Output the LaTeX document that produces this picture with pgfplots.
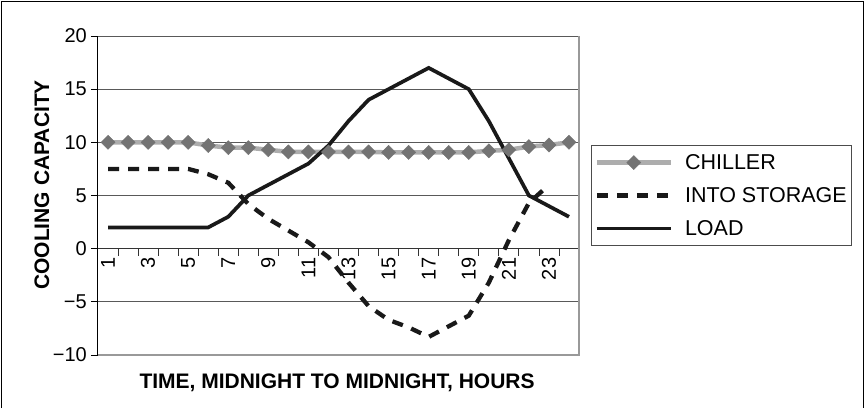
\documentclass[border=0pt]{standalone}
\usepackage{fontspec}
\setmainfont{Liberation Sans}
\usepackage{pgfplots}
\pgfplotsset{compat=1.18}
\begin{document}
\begin{tikzpicture}[x=1pt,y=1pt]
\useasboundingbox (0,0) rectangle (865,408);
\draw[line width=1.3pt,black] (1.5,0) -- (1.5,406.5) -- (863.5,406.5) -- (863.5,0);
\begin{axis}[
  at={(98pt,53pt)}, anchor=south west,
  scale only axis, width=481pt, height=319pt,
  xmin=0.5, xmax=24.5, ymin=-10, ymax=20,
  axis x line=middle, axis y line=left,
  axis line style={-},
  x axis line style={draw=black!80, line width=0.9pt},
  y axis line style={draw=black, line width=1pt},
  xtick={0.5,1.5,...,24.5}, xticklabels={},
  extra x ticks={1,3,5,7,9,11,13,15,17,19,21,23},
  extra x tick labels={1,3,5,7,9,11,13,15,17,19,21,23},
  extra x tick style={major tick length=0pt, tick style={draw=none},
     xticklabel style={yshift=-9pt, rotate=90, anchor=east, inner sep=0pt}},
  x tick style={draw=black!80, line width=0.8pt},
  tick align=outside,
  major tick length=7pt,
  ytick={-10,-5,0,5,10,15,20},
  yticklabels={−10,−5,0,5,10,15,20},
  y tick style={draw=black, line width=0.8pt},
  yticklabel style={inner sep=0pt, xshift=-4pt},
  tick label style={font=\fontsize{20}{24}\selectfont},
  ymajorgrids,
  grid style={draw=black!65, line width=0.8pt},
  xlabel={\textbf{TIME, MIDNIGHT TO MIDNIGHT, HOURS}},
  ylabel={\textbf{COOLING CAPACITY}},
  every axis x label/.style={at={(axis description cs:0.497,-0.0878)}, anchor=center, font=\fontsize{21}{25}\selectfont},
  every axis y label/.style={at={(axis description cs:-0.1164,0.533)}, rotate=90, anchor=center, font=\fontsize{21}{25}\selectfont},
  legend style={at={(axis description cs:1.025,0.658)}, anchor=north west,
     draw=black!70, line width=1pt, font=\fontsize{21.5}{25}\selectfont,
     inner xsep=3pt, inner ysep=7pt, row sep=13pt, column sep=0pt,
     /tikz/every odd column/.style={column sep=0pt},
     /tikz/every even column/.style={column sep=0pt},
     nodes={inner sep=2pt, text height=15pt, text depth=1pt}},
  legend cell align=left,
  legend image code/.code={\draw[#1, mark repeat=2, mark phase=2] plot coordinates {(0pt,0pt) (37pt,0pt) (74pt,0pt)}; \path (84pt,0pt);},
  clip=false,
]
\addplot[draw=black!32, line width=4.5pt, mark=square*, mark size=5pt,
  mark options={draw=black!55, fill=black!55, line width=0.4pt, solid, rotate=45}]
  coordinates {(1,10)(2,10)(3,10)(4,10)(5,10)(6,9.7)(7,9.5)(8,9.5)(9,9.3)(10,9.1)(11,9.1)(12,9.1)(13,9.1)(14,9.1)(15,9.05)(16,9.05)(17,9.05)(18,9.05)(19,9.05)(20,9.2)(21,9.3)(22,9.6)(23,9.75)(24,10)};
\addlegendentry{CHILLER}
\addplot[draw=black!90, line width=4.3pt, dash pattern=on 11pt off 9pt]
  coordinates {(1,7.5)(2,7.5)(3,7.5)(4,7.5)(5,7.5)(6,7.0)(7,6.2)(8,4.2)(9,2.8)(10,1.7)(11,0.6)(12,-0.8)(13,-3.2)(14,-5.4)(15,-6.7)(16,-7.4)(17,-8.3)(18,-7.3)(19,-6.3)(20,-3.2)(21,0.8)(22,4.3)(23,6.0)};
\addlegendentry{INTO STORAGE}
\addplot[draw=black!90, line width=3.7pt]
  coordinates {(1,2)(2,2)(3,2)(4,2)(5,2)(6,2)(7,3)(8,5)(9,6)(10,7)(11,8)(12,9.7)(13,12)(14,14)(15,15)(16,16)(17,17)(18,16)(19,15)(20,12)(21,8.5)(22,5)(23,4)(24,3)};
\addlegendentry{LOAD}
\draw[draw=black!40, line width=1.2pt] (rel axis cs:0,0) -- (rel axis cs:1,0) -- (rel axis cs:1,1);
\end{axis}
\end{tikzpicture}
\end{document}
